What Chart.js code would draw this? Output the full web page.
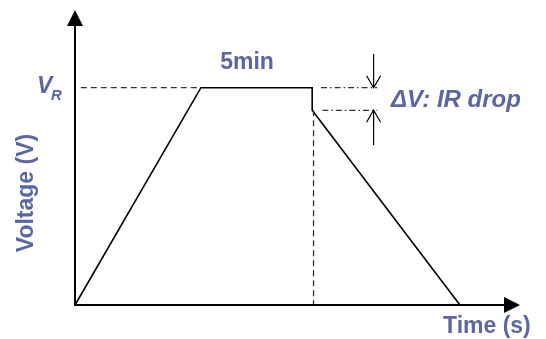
<!DOCTYPE html>
<html>
<head>
<meta charset="utf-8">
<script src="https://cdn.jsdelivr.net/npm/chart.js@4/dist/chart.umd.min.js"></script>
<style>
  html, body { margin: 0; padding: 0; background: #fff; }
  #wrap { width: 546px; height: 339px; }
</style>
</head>
<body>
<div id="wrap"><canvas id="chart" width="546" height="339"></canvas></div>
<script>
/* ---------- DATA ---------- */
// voltage profile (time in arbitrary units, voltage relative to V_R)
const profileTime = [0, 28.3, 53.3, 53.3, 86.5];
const profileVolt = [0, 1.0, 1.0, 0.896, 0];

// dashed guide lines
const vrGuideTime = [1.3, 28.3];
const vrGuideVolt = [1.0, 1.0];
const dropGuideTime = [53.6, 53.6];
const dropGuideVolt = [0.896, 0];

// dash-dot IR-drop markers
const irTopTime = [55.3, 67.9];
const irTopVolt = [1.0, 1.0];
const irBotTime = [55.6, 67.9];
const irBotVolt = [0.896, 0.896];

// arrows marking the drop: [x, from, to]
const irArrows = [
  [67.1, 1.155, 1.0],
  [67.1, 0.736, 0.896]
];

const labelColor = '#5B67A3';
const FONT = '"Liberation Sans", Arial, sans-serif';

const pts = (xs, ys) => xs.map((x, i) => ({ x, y: ys[i] }));

/* ---------- AXES, ARROWS, TEXT ---------- */
const decor = {
  id: 'decor',
  afterDatasetsDraw(chart) {
    const { ctx, scales: { x, y } } = chart;
    const x0 = x.getPixelForValue(0), y0 = y.getPixelForValue(0);
    const xEnd = x.getPixelForValue(x.max), yEnd = y.getPixelForValue(y.max);

    ctx.save();
    // axes
    ctx.strokeStyle = '#000';
    ctx.lineWidth = 2;
    ctx.beginPath();
    ctx.moveTo(x0, yEnd + 10); ctx.lineTo(x0, y0);
    ctx.lineTo(xEnd - 10, y0);
    ctx.stroke();

    // filled arrowheads
    ctx.fillStyle = '#000';
    ctx.beginPath();
    ctx.moveTo(x0, yEnd); ctx.lineTo(x0 - 8, yEnd + 16); ctx.lineTo(x0 + 8, yEnd + 16);
    ctx.closePath(); ctx.fill();
    ctx.beginPath();
    ctx.moveTo(xEnd, y0); ctx.lineTo(xEnd - 16, y0 - 8); ctx.lineTo(xEnd - 16, y0 + 8);
    ctx.closePath(); ctx.fill();

    // open arrows for IR drop
    ctx.lineWidth = 1.2;
    irArrows.forEach(([t, from, to]) => {
      const px = x.getPixelForValue(t);
      const pa = y.getPixelForValue(from), pb = y.getPixelForValue(to);
      const dir = pb > pa ? 1 : -1;
      ctx.beginPath();
      ctx.moveTo(px, pa); ctx.lineTo(px, pb);
      ctx.moveTo(px - 7, pb - dir * 12); ctx.lineTo(px, pb); ctx.lineTo(px + 7, pb - dir * 12);
      ctx.stroke();
    });

    // text
    ctx.fillStyle = labelColor;
    ctx.textBaseline = 'alphabetic';
    ctx.font = 'bold 23px ' + FONT;
    ctx.textAlign = 'center';
    ctx.fillText('5min', 247, 69);

    ctx.textAlign = 'left';
    ctx.fillText('Time (s)', 443, 333);

    ctx.font = 'italic bold 24px ' + FONT;
    ctx.fillText('ΔV: IR drop', 391, 107);

    ctx.font = 'italic bold 23px ' + FONT;
    ctx.fillText('V', 37, 93);
    ctx.font = 'italic bold 15px ' + FONT;
    ctx.fillText('R', 51, 100);

    ctx.save();
    ctx.translate(33, 193);
    ctx.rotate(-Math.PI / 2);
    ctx.font = 'bold 23px ' + FONT;
    ctx.textAlign = 'center';
    ctx.fillText('Voltage (V)', 0, 0);
    ctx.restore();

    ctx.restore();
  }
};

new Chart(document.getElementById('chart'), {
  type: 'line',
  data: {
    datasets: [
      {
        data: pts(vrGuideTime, vrGuideVolt),
        borderColor: '#333',
        borderWidth: 1.3,
        borderDash: [6, 4]
      },
      {
        data: pts(dropGuideTime, dropGuideVolt),
        borderColor: '#333',
        borderWidth: 1.3,
        borderDash: [6, 4]
      },
      {
        data: pts(irTopTime, irTopVolt),
        borderColor: '#333',
        borderWidth: 1.2,
        borderDash: [6, 3, 1.5, 3]
      },
      {
        data: pts(irBotTime, irBotVolt),
        borderColor: '#333',
        borderWidth: 1.2,
        borderDash: [6, 3, 1.5, 3]
      },
      {
        data: pts(profileTime, profileVolt),
        borderColor: '#000',
        borderWidth: 1.6
      }
    ]
  },
  options: {
    responsive: false,
    animation: false,
    devicePixelRatio: 1,
    layout: { padding: { left: 75, right: 26, top: 10, bottom: 34 } },
    elements: { point: { radius: 0 }, line: { tension: 0 } },
    datasets: { line: { clip: false } },
    plugins: { legend: { display: false }, tooltip: { enabled: false } },
    scales: {
      x: { type: 'linear', min: 0, max: 100, display: false },
      y: { type: 'linear', min: 0, max: 1.3576, display: false }
    }
  },
  plugins: [decor]
});
</script>
</body>
</html>
